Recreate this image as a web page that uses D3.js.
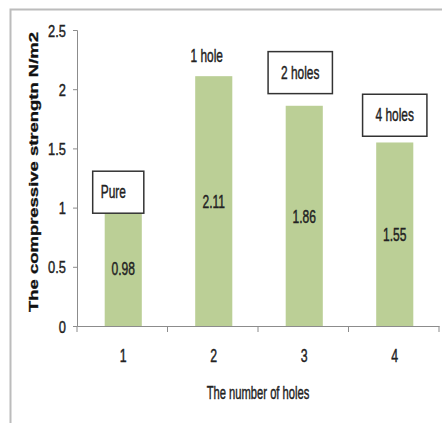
<!DOCTYPE html>
<html><head><meta charset="utf-8">
<script src="https://cdn.jsdelivr.net/npm/d3@7"></script>
<style>
body{margin:0;background:#fff;}
svg{display:block;}
.cond{font-family:"Liberation Sans",Arial,sans-serif;fill:#222;stroke:#222;stroke-width:0.35px;}
</style></head>
<body><svg id="c" width="442" height="423"></svg>
<script>
const categories = ["1","2","3","4"];
const values = [0.98, 2.11, 1.86, 1.55];
const valueLabels = ["0.98","2.11","1.86","1.55"];
const annotations = ["Pure","1 hole","2 holes","4 holes"];
const annotationBoxed = [true,false,true,true];
const annotationValue = [1.13, 2.28, 2.14, 1.78];
const yTicks = [0,0.5,1,1.5,2,2.5];
const yTickLabels = ["0","0.5","1","1.5","2","2.5"];

const svg = d3.select("#c");
const m = {left:77, right:439, top:30, bottom:326};
const annShift = [-9,-6,-3,1];
const boxShift = [5,0,0,0];

// outer frame
svg.append("path").attr("d","M10.5,423 V9.5 H442").attr("fill","none").attr("stroke","#bcbcbc").attr("stroke-width",2);

const x = d3.scaleBand().domain(categories).range([m.left,m.right]);
const y = d3.scaleLinear().domain([0,2.5]).range([m.bottom,m.top]);

function cond(sel, fs, sx, sy){
  sel.attr("class","cond").attr("font-size",fs);
  sel.each(function(){
    const t = d3.select(this);
    const tx = +t.attr("x")||0, ty = +t.attr("y")||0;
    t.attr("x",0).attr("y",0).attr("transform",`translate(${tx},${ty}) scale(${sx},${sy})`);
  });
}

// y axis
const ya = svg.append("g").attr("transform",`translate(${m.left},0)`)
  .call(d3.axisLeft(y).tickValues(yTicks).tickFormat((d,i)=>yTickLabels[i]).tickSizeOuter(0).tickSize(4).tickPadding(10));
ya.select(".domain").attr("stroke","#8c8c8c");
ya.selectAll(".tick line").attr("stroke","#8c8c8c");
ya.selectAll(".tick text").attr("dy",null).attr("y",6).attr("x",-11);
cond(ya.selectAll(".tick text").attr("fill","#222"),14,0.92,1.22);

// bars
const bw = x.bandwidth()*0.41;
svg.append("g").selectAll("rect").data(values).join("rect")
  .attr("x",(d,i)=>x(categories[i])+x.bandwidth()/2-bw/2+1)
  .attr("width",bw)
  .attr("y",d=>y(d)).attr("height",d=>y(0)-y(d))
  .attr("fill","#bbcf96");

// x axis
const xa = svg.append("g").attr("transform",`translate(0,${m.bottom})`)
  .call(d3.axisBottom(x).tickSizeOuter(0).tickSize(0));
xa.select(".domain").attr("stroke","#8c8c8c");
xa.selectAll(".tick text").attr("dy",null).attr("y",36).attr("x",1);
cond(xa.selectAll(".tick text").attr("fill","#222"),14,0.88,1.32);
const bounds = categories.map(c=>x(c)).concat([m.right]);
xa.selectAll("line.bt").data(bounds).join("line").attr("class","bt")
  .attr("x1",d=>d).attr("x2",d=>d).attr("y1",0).attr("y2",6).attr("stroke","#8c8c8c");

// value labels
const vl = svg.append("g").selectAll("text").data(values).join("text")
  .attr("x",(d,i)=>x(categories[i])+x.bandwidth()/2+1)
  .attr("y",d=>(y(d)+y(0))/2+7)
  .attr("text-anchor","middle").text((d,i)=>valueLabels[i]);
cond(vl,14,0.86,1.32);

// annotations
const ag = svg.append("g");
annotations.forEach((t,i)=>{
  const cx = x(categories[i])+x.bandwidth()/2+annShift[i];
  const cy = y(annotationValue[i]);
  const tx = ag.append("text").attr("x",cx).attr("y",cy+6).attr("text-anchor","middle").text(t);
  cond(tx,14,0.85,1.3);
  if(annotationBoxed[i]){
    const w = tx.node().getComputedTextLength()*0.85+26;
    ag.insert("rect","text").attr("x",cx-w/2+boxShift[i]).attr("y",cy-21).attr("width",w).attr("height",42)
      .attr("fill","#fff").attr("stroke","#333").attr("stroke-width",1.5);
  }
});

// axis titles
const xt = svg.append("text").attr("x",(m.left+m.right)/2).attr("y",399).attr("text-anchor","middle").text("The number of holes");
cond(xt,14,0.8,1.3);
svg.append("text").attr("font-family","'Liberation Sans',Arial,sans-serif").attr("font-weight","bold")
  .attr("font-size",13).attr("fill","#111").attr("stroke","#111").attr("stroke-width",0.3)
  .attr("transform","translate(38,172) rotate(-90)").attr("text-anchor","middle")
  .attr("textLength",280).attr("lengthAdjust","spacingAndGlyphs")
  .text("The compressive strengtn N/m2");
</script></body></html>
